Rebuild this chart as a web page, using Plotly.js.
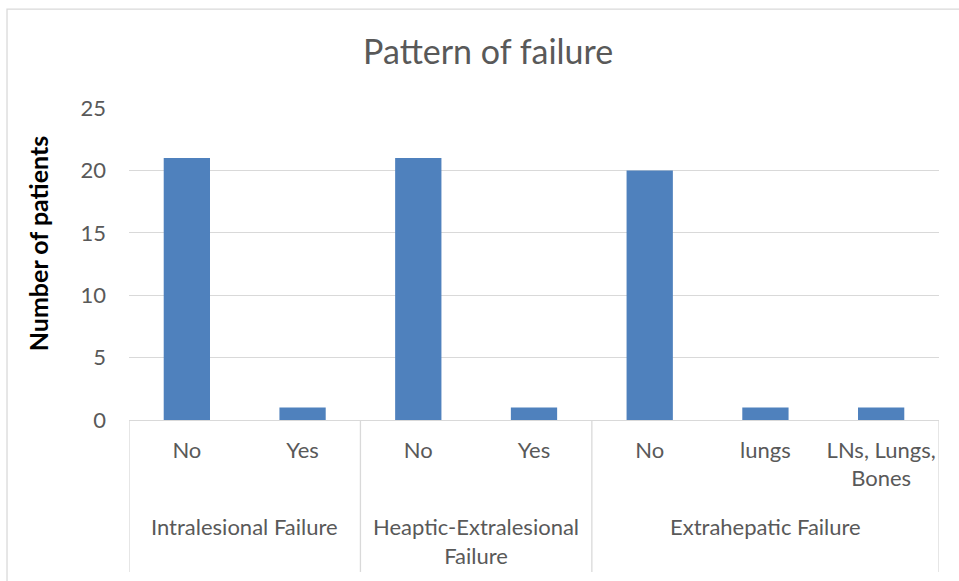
<!DOCTYPE html>
<html>
<head>
<meta charset="utf-8">
<script src="https://cdn.plot.ly/plotly-3.0.1.min.js"></script>
<style>html,body{margin:0;padding:0;background:#fff;}#chart{width:959px;height:581px;}</style>
</head>
<body>
<div id="chart"></div>
<script>
var groups = ["Intralesional Failure", "Heaptic-Extralesional<br>Failure", "Extrahepatic Failure"];
var groupOf = [0, 0, 1, 1, 2, 2, 2];
var subLabels = ["No", "Yes", "No", "Yes", "No", "lungs", "LNs, Lungs,<br>Bones"];
var patients = [21, 1, 21, 1, 20, 1, 1];
var yTicks = [0, 5, 10, 15, 20, 25];

var FONT = "Lato, 'Open Sans', sans-serif";
var GREY = "#595959";
var LINE = "#D9D9D9";

var keys = subLabels.map(function (s, i) { return "g" + groupOf[i] + "_" + i; });

var trace = {
  type: "bar",
  x: keys,
  y: patients,
  width: 0.4,
  marker: { color: "#4F81BD", line: { width: 0 } },
  hoverinfo: "y"
};

var spans = groups.map(function (g, gi) {
  var idx = [];
  groupOf.forEach(function (v, i) { if (v === gi) idx.push(i); });
  return { first: idx[0], last: idx[idx.length - 1] };
});

var divBottom = -0.487;
var shapes = [];
var boundaries = [-0.5];
spans.forEach(function (s) { boundaries.push(s.last + 0.5); });
boundaries.forEach(function (b) {
  shapes.push({ type: "line", xref: "x", yref: "paper", x0: b, x1: b, y0: 0, y1: divBottom,
    line: { color: LINE, width: 1.3 } });
});
shapes.push({ type: "rect", xref: "paper", yref: "paper", x0: -0.1506, x1: 1.05, y0: 1.317, y1: -0.6,
  line: { color: LINE, width: 1.3 }, layer: "below" });

var annotations = spans.map(function (s, gi) {
  return { xref: "x", yref: "paper", x: (s.first + s.last) / 2, y: -0.292, yanchor: "top",
    text: groups[gi], showarrow: false, font: { family: FONT, size: 22, color: GREY } };
});
annotations.push({ xref: "paper", yref: "paper", x: -0.113, y: 0.565, xanchor: "center", yanchor: "middle",
  text: "<b>Number of patients</b>", textangle: -90, showarrow: false,
  font: { family: FONT, size: 25, color: "#000000" } });

var layout = {
  width: 959, height: 581,
  margin: { l: 129, r: 20, t: 108, b: 161 },
  paper_bgcolor: "#ffffff", plot_bgcolor: "#ffffff",
  showlegend: false,
  title: { text: "Pattern of failure", xref: "container", yref: "container", x: 0.509, y: 0.91,
    xanchor: "center", yanchor: "middle", font: { family: FONT, size: 34, color: GREY } },
  xaxis: {
    type: "category", categoryarray: keys, tickvals: keys, ticktext: subLabels,
    range: [-0.5, keys.length - 0.5],
    showline: true, linecolor: LINE, linewidth: 1.3, showgrid: false, zeroline: false,
    ticks: "", ticklabelstandoff: 10, tickangle: 0,
    tickfont: { family: FONT, size: 22, color: GREY }, fixedrange: true
  },
  yaxis: {
    range: [0, 25], tickvals: yTicks, showgrid: true, gridcolor: LINE, gridwidth: 1.3,
    zeroline: false, showline: false, ticks: "", ticklabelstandoff: 22,
    tickfont: { family: FONT, size: 22, color: GREY }, fixedrange: true
  },
  shapes: shapes,
  annotations: annotations,
  bargap: 0.6
};

Plotly.newPlot("chart", [trace], layout, { displayModeBar: false, staticPlot: true });
</script>
</body>
</html>
